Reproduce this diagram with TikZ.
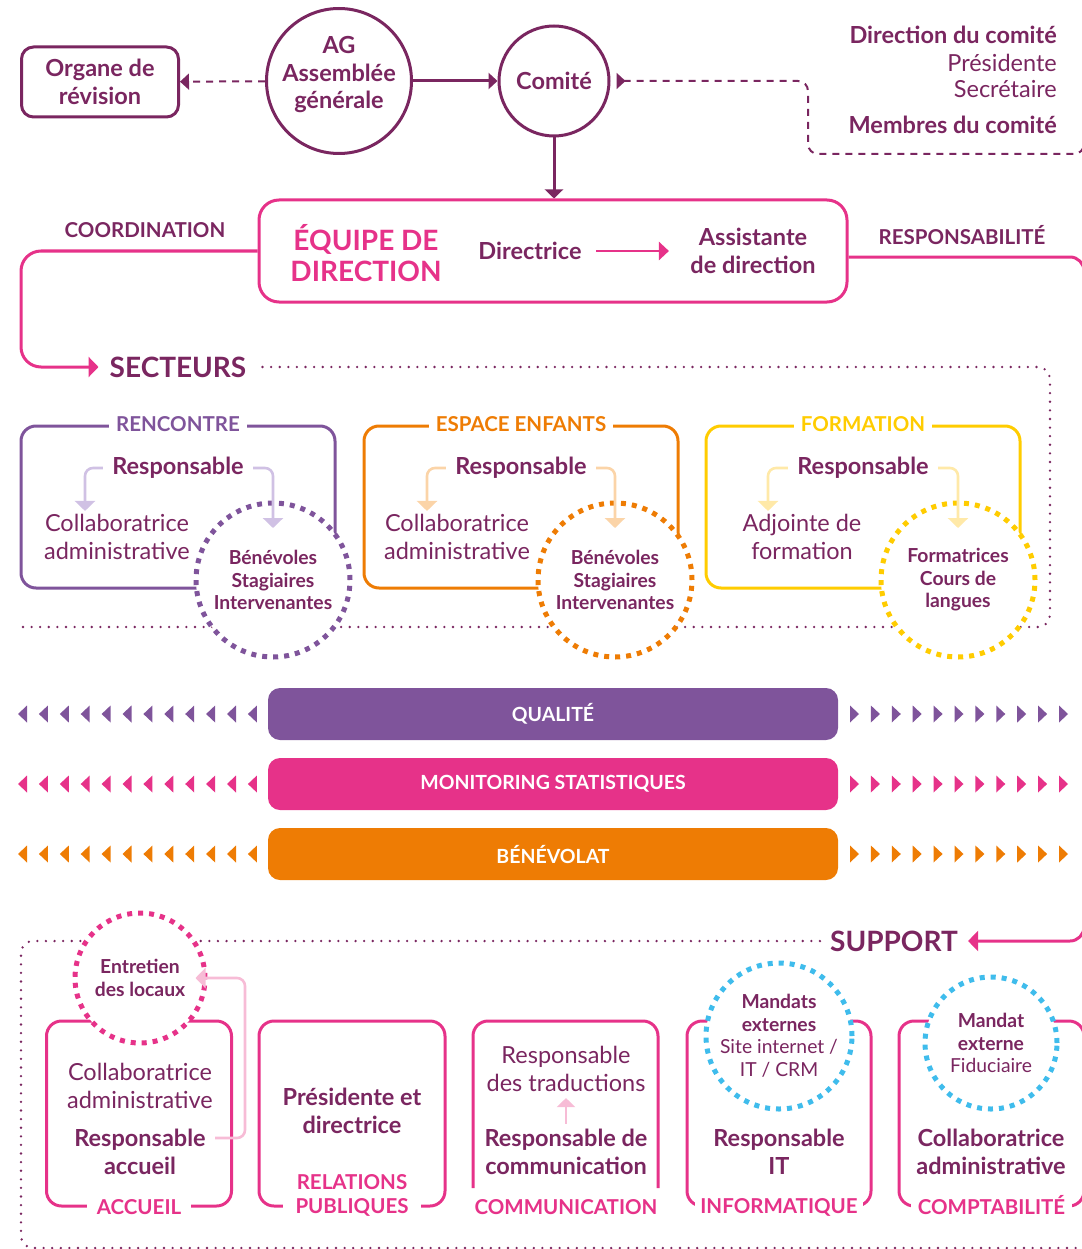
\documentclass[tikz,border=0pt]{standalone}
\usepackage{fontspec}
\setmainfont{Lato}
\usetikzlibrary{arrows.meta}

\definecolor{plum}{RGB}{122,38,96}
\definecolor{rose}{RGB}{230,50,137}
\definecolor{cpurple}{RGB}{127,84,155}
\definecolor{corange}{RGB}{238,124,4}
\definecolor{cyellow}{RGB}{255,204,0}
\definecolor{ccyan}{RGB}{63,188,236}
\definecolor{lpurple}{RGB}{208,193,228}
\definecolor{lorange}{RGB}{251,212,168}
\definecolor{lyellow}{RGB}{255,233,168}
\definecolor{lrose}{RGB}{247,188,214}

\newcommand\fmain{\fontsize{23.5}{27.5}\selectfont}
\newcommand\fsmall{\fontsize{19.3}{22.5}\selectfont}
\newcommand\flabel{\fontsize{20.5}{24}\selectfont\bfseries}
\newcommand\fbig{\fontsize{28}{31}\selectfont\bfseries}

\tikzset{
  txt/.style={text=plum, align=center, font=\fmain},
  txtb/.style={text=plum, align=center, font=\fmain\bfseries},
  plumbox/.style={draw=plum, line width=3pt, rounded corners=12pt, minimum width=157pt, minimum height=70pt},
  plumcirc/.style={circle, draw=plum, line width=3pt, fill=white, inner sep=0pt},
  plumline/.style={draw=plum, line width=3pt},
  dashline/.style={draw=plum, line width=2pt, dash pattern=on 7pt off 6pt},
  dotline/.style={draw=plum, line width=2.6pt, line cap=round, dash pattern=on 0pt off 8.6pt},
  roseline/.style={draw=rose, line width=3pt},
  secbox/.style={line width=3pt, rounded corners=15pt, minimum width=314pt, minimum height=162pt},
  seclab/.style={fill=white, font=\flabel, inner xsep=7pt, inner ysep=2pt},
  dotcirc/.style={circle, fill=white, line width=5pt, dash pattern=on 5pt off 6pt, minimum size=#1, inner sep=0pt, text=plum, align=center, font=\fsmall},
  lightarrow/.style={line width=2.6pt, rounded corners=8pt, shorten <=6pt, -{Triangle[length=10pt,width=20pt]}},
  barbox/.style={rounded corners=12pt, minimum width=570pt, minimum height=52pt, text=white, font=\fontsize{19.5}{22}\selectfont\bfseries},
  supbox/.style={draw=rose, line width=3pt, rounded corners=15pt, minimum width=185pt, minimum height=185pt},
  suplab/.style={fill=white, text=rose, font=\flabel, inner xsep=10pt, inner ysep=2pt, align=center},
}

\begin{document}
\begin{tikzpicture}[x=1pt,y=-1pt]
\useasboundingbox (0,0) rectangle (1081,1249);

\node[plumbox, txtb] (organe) at (100,82) {Organe de\\révision};
\node[plumcirc, minimum size=145pt] (ag) at (339,81) {};
\node[txtb] (agtxt) at (339,75) {AG\\Assemblée\\générale};
\node[plumcirc, txtb, minimum size=110pt] (comite) at (554,81) {Comité};
\node[txtb, anchor=east, inner sep=0pt] (dircom) at (1057,35) {Direction du comité};
\node[txt, anchor=east, inner sep=0pt] (presidente) at (1057,63) {Présidente};
\node[txt, anchor=east, inner sep=0pt] (secretaire) at (1057,89) {Secrétaire};
\node[txtb, anchor=east, inner sep=0pt] (membres) at (1057,125) {Membres du comité};

\draw[plumline, -{Triangle[length=9pt,width=16pt]}] (ag) -- (comite);
\draw[dashline, -{Triangle[length=9pt,width=16pt]}] (ag) -- (organe);
\draw[dashline, {Triangle[reversed,length=9pt,width=16pt]}-, rounded corners=10pt] ([xshift=6pt]comite.east) -- (808,81) -- (808,154) -- (1084,154) -- (1084,40);

\node[draw=rose, line width=3pt, rounded corners=20pt, minimum width=588pt, minimum height=102pt] (equipe) at (553,251) {};
\node[text=rose, font=\fontsize{28}{31}\selectfont\bfseries, align=center] (eqtitle) at (366,253) {ÉQUIPE DE\\DIRECTION};
\node[txtb] (directrice) at (530,251) {Directrice};
\node[txtb] (assistante) at (753,251) {Assistante\\de direction};
\draw[roseline, line width=2.4pt, -{Triangle[length=10pt,width=18pt]}, shorten <=11pt, shorten >=18pt] (directrice) -- (assistante);
\draw[plumline, -{Triangle[length=9pt,width=18pt]}] (comite) -- (comite |- equipe.north);

\node[text=plum, font=\flabel] (coord) at (145,230) {COORDINATION};
\node[text=plum, font=\flabel] (respons) at (962,235) {RESPONSABILITÉ};
\node[text=plum, font=\fbig, inner xsep=11pt] (secteurs) at (178,367) {SECTEURS};
\node[text=plum, font=\fbig, inner xsep=10pt] (support) at (894,941) {SUPPORT};

\draw[roseline, rounded corners=20pt, -{Triangle[length=10pt,width=20pt]}] (equipe.west) -- (21,251) -- (21,367) -- (secteurs.west);
\draw[roseline, rounded corners=14pt, -{Triangle[length=10pt,width=20pt]}] ([yshift=-6pt]equipe.east) -- (1084,257) -- (1084,941) -- (support.east);

\draw[dotline, rounded corners=12pt] ([xshift=5pt]secteurs.east) -- (1050,367) -- (1050,627) -- (20,627);
\draw[dotline, rounded corners=12pt] (support.west) -- (21,941) -- (21,1248) -- (1090,1248);

\node[secbox, draw=cpurple] (rencontre) at (178,507) {};
\node[secbox, draw=corange] (enfants) at (521,507) {};
\node[secbox, draw=cyellow] (formation) at (863,507) {};
\node[seclab, text=cpurple] (rencontrelab) at (rencontre.north) {RENCONTRE};
\node[seclab, text=corange] (enfantslab) at (enfants.north) {ESPACE ENFANTS};
\node[seclab, text=cyellow] (formationlab) at (formation.north) {FORMATION};

\node[txtb] (resp1) at (178,468) {Responsable};
\node[txtb] (resp2) at (521,468) {Responsable};
\node[txtb] (resp3) at (863,468) {Responsable};
\node[txt] (collab1) at (117,537) {Collaboratrice\\administrative};
\node[txt] (collab2) at (457,537) {Collaboratrice\\administrative};
\node[txt] (adjointe) at (802,537) {Adjointe de\\formation};
\node[dotcirc=154pt, draw=cpurple, font=\fsmall\bfseries] (benev1) at (273,580) {Bénévoles\\Stagiaires\\Intervenantes};
\node[dotcirc=154pt, draw=corange, font=\fsmall\bfseries] (benev2) at (615,580) {Bénévoles\\Stagiaires\\Intervenantes};
\node[dotcirc=154pt, draw=cyellow, font=\fsmall\bfseries] (formatrices) at (958,580) {Formatrices\\Cours de\\langues};

\draw[lightarrow, draw=lpurple] (resp1.west) -| ([xshift=-32pt]collab1.north);
\draw[lightarrow, draw=lpurple] (resp1.east) -| ([yshift=52pt]benev1.center);
\draw[lightarrow, draw=lorange] (resp2.west) -| ([xshift=-30pt]collab2.north);
\draw[lightarrow, draw=lorange] (resp2.east) -| ([yshift=52pt]benev2.center);
\draw[lightarrow, draw=lyellow] (resp3.west) -| ([xshift=-34pt]adjointe.north);
\draw[lightarrow, draw=lyellow] (resp3.east) -| ([yshift=52pt]formatrices.center);

\node[barbox, fill=cpurple] (qualite) at (553,714) {QUALITÉ};
\node[barbox, fill=rose] (monitoring) at (553,784) {MONITORING STATISTIQUES};
\node[barbox, fill=corange] (benevolat) at (553,854) {BÉNÉVOLAT};
\foreach \col/\yy in {cpurple/714,rose/784,corange/854}{
  \foreach \i in {0,...,11} \fill[\col] (18+20.9*\i,\yy) -- ++(9,-8.5) -- ++(0,17) -- cycle;
  \foreach \i in {0,...,10} \fill[\col] (859+20.9*\i,\yy) -- ++(-9,-8.5) -- ++(0,17) -- cycle;
}

\node[supbox] (accueil) at (139,1113.5) {};
\node[supbox, minimum width=186pt] (relations) at (352,1113.5) {};
\draw[roseline, rounded corners=15pt] (473,1188) -- (473,1021) -- (658,1021) -- (658,1188);
\node[supbox, minimum width=184pt] (informatique) at (779,1113.5) {};
\node[supbox] (comptabilite) at (991.5,1113.5) {};
\node[suplab] (accueillab) at (accueil.south) {ACCUEIL};
\node[suplab, inner xsep=13pt] (relationslab) at (352,1195) {RELATIONS\\PUBLIQUES};
\node[suplab] (communicationlab) at (566,1207) {COMMUNICATION};
\node[suplab, inner xsep=5pt] (informatiquelab) at (informatique.south) {INFORMATIQUE};
\node[suplab, inner xsep=7pt] (comptabilitelab) at ([yshift=2pt]comptabilite.south) {COMPTABILITÉ};

\node[dotcirc=130pt, draw=rose, font=\fsmall\bfseries] (entretien) at (140,978) {Entretien\\des locaux};
\node[dotcirc=146pt, draw=ccyan] (mandats) at (779,1036) {\textbf{Mandats}\\\textbf{externes}\\Site internet /\\IT / CRM};
\node[dotcirc=132pt, draw=ccyan] (mandat) at (991,1043) {\textbf{Mandat}\\\textbf{externe}\\Fiduciaire};

\node[txt] (collaba) at (140,1086) {Collaboratrice\\administrative};
\node[txtb] (respacc) at (140,1152) {Responsable\\accueil};
\node[txtb] (presdir) at (352,1111) {Présidente et\\directrice};
\node[txt] (trad) at (566,1069) {Responsable\\des traductions};
\node[txtb] (respcom) at (566,1152) {Responsable de\\communication};
\node[txtb] (respit) at (779,1152) {Responsable\\IT};
\node[txtb] (collabc) at (991,1152) {Collaboratrice\\administrative};

\draw[lightarrow, draw=lrose] ([yshift=14pt]respacc.east) -- (245,1138) -- (245,978) -- ([xshift=-12pt]entretien.east);
\draw[lightarrow, draw=lrose, shorten <=2pt, shorten >=3pt, -{Triangle[length=9pt,width=18pt]}] (respcom.north) -- (trad.south);
\end{tikzpicture}
\end{document}
